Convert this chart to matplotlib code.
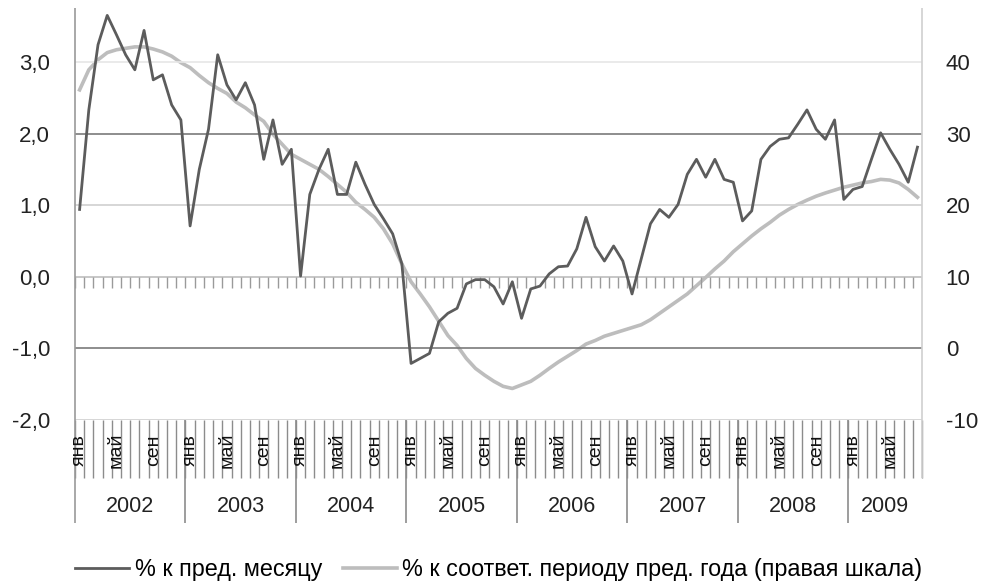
import matplotlib.pyplot as plt
import numpy as np

plt.rcParams['font.family'] = ['Liberation Sans', 'DejaVu Sans']
plt.rcParams['axes.unicode_minus'] = False

years = ['2002', '2003', '2004', '2005', '2006', '2007', '2008', '2009']
month_labels = ['янв', 'май', 'сен']

# % к пред. месяцу (левая шкала), янв 2002 - авг 2009
mom = [0.94, 2.33, 3.24, 3.65, 3.38, 3.10, 2.89, 3.44, 2.75, 2.82, 2.40, 2.19,
       0.71, 1.50, 2.06, 3.10, 2.68, 2.47, 2.71, 2.40, 1.64, 2.19, 1.57, 1.78,
       0.01, 1.15, 1.50, 1.78, 1.15, 1.15, 1.60, 1.29, 1.01, 0.81, 0.60, 0.18,
       -1.21, -1.14, -1.07, -0.63, -0.51, -0.44, -0.10, -0.04, -0.04, -0.14, -0.38, -0.07,
       -0.58, -0.17, -0.13, 0.04, 0.14, 0.15, 0.39, 0.83, 0.42, 0.22, 0.43, 0.22,
       -0.24, 0.25, 0.74, 0.94, 0.83, 1.01, 1.43, 1.64, 1.39, 1.64, 1.36, 1.32,
       0.78, 0.92, 1.64, 1.82, 1.92, 1.94, 2.13, 2.33, 2.06, 1.92, 2.19, 1.08,
       1.22, 1.26, 1.64, 2.01, 1.78, 1.57, 1.32, 1.81]

# % к соответ. периоду пред. года (правая шкала)
yoy = [36.1, 38.9, 40.3, 41.3, 41.7, 41.9, 42.1, 42.1, 41.8, 41.4, 40.8, 39.9,
       39.2, 38.1, 37.1, 36.3, 35.6, 34.4, 33.6, 32.6, 31.7, 29.9, 28.5, 27.1,
       26.4, 25.7, 25.0, 24.0, 22.9, 21.8, 20.4, 19.4, 18.3, 16.7, 14.6, 11.8,
       9.3, 7.6, 5.8, 3.8, 1.8, 0.4, -1.4, -2.8, -3.75, -4.6, -5.3, -5.6,
       -5.1, -4.6, -3.75, -2.8, -1.9, -1.1, -0.3, 0.6, 1.1, 1.7, 2.1, 2.5,
       2.9, 3.3, 4.0, 4.9, 5.8, 6.7, 7.6, 8.75, 9.9, 11.1, 12.2, 13.5,
       14.6, 15.7, 16.7, 17.6, 18.6, 19.4, 20.1, 20.7, 21.25, 21.7, 22.1, 22.5,
       22.8, 23.1, 23.3, 23.6, 23.5, 23.1, 22.2, 21.1]

left_ticks = [-2, -1, 0, 1, 2, 3]
right_ticks = [-10, 0, 10, 20, 30, 40]
grid_colors = ['#cfcfcf', '#7a7a7a', '#bdbdbd', '#cfcfcf', '#7a7a7a', '#e6e6e6']

n = len(mom)
x = np.arange(n)

fig = plt.figure(figsize=(9.83, 5.87), dpi=100)
ax = fig.add_axes([0.0763, 0.2845, 0.8617, 0.7015])
ax2 = ax.twinx()
ax.set_zorder(ax2.get_zorder() + 1)
ax.patch.set_visible(False)

for t, c in zip(left_ticks, grid_colors):
    ax.axhline(t, color=c, lw=1.2, zorder=0)

bounds = np.arange(n + 1) - 0.5
ax.vlines(bounds, -0.16, 0, color='#9a9a9a', lw=1, zorder=0)

l2, = ax2.plot(x, yoy, color='#bdbdbd', lw=2.6, solid_joinstyle='round')
l1, = ax.plot(x, mom, color='#5c5c5c', lw=2.0, solid_joinstyle='round')

ax.set_xlim(-0.5, n - 0.5)
ax.set_ylim(-2, 3.75)
ax2.set_ylim(-10, 47.5)
ax.set_xticks([])
ax.set_yticks(left_ticks)
ax.set_yticklabels([('%.1f' % t).replace('.', ',') for t in left_ticks])
ax2.set_yticks(right_ticks)
ax.tick_params(axis='y', length=0, pad=18, labelsize=16, labelcolor='#222222')
ax2.tick_params(axis='y', length=0, pad=17, labelsize=16, labelcolor='#222222')
for a in (ax, ax2):
    for s in a.spines.values():
        s.set_visible(False)

# category axis with months and years
tr = ax.get_xaxis_transform()
ax.vlines(bounds, -0.141, 0, color='#8c8c8c', lw=1, transform=tr, clip_on=False)
ax.vlines(-0.5, -0.25, 1, color='#9a9a9a', lw=1.2, transform=tr, clip_on=False)
ax.vlines(n - 0.5, -0.141, 1, color='#d0d0d0', lw=1.2, transform=tr, clip_on=False)
for k, yr in enumerate(years):
    start = 12 * k
    end = min(12 * (k + 1), n)
    if k > 0:
        ax.vlines(start - 0.5, -0.25, 0, color='#8c8c8c', lw=1.2, transform=tr, clip_on=False)
    ax.text((start + end - 1) / 2, -0.211, yr, transform=tr, ha='center', va='center',
            fontsize=15.5, color='#222222')
    for j, m in enumerate(month_labels):
        i = start + 4 * j
        if i < n:
            ax.text(i, -0.073, m, transform=tr, ha='center', va='center', rotation=90,
                    fontsize=14, color='#111111')

fig.legend([l1, l2], ['% к пред. месяцу', '% к соответ. периоду пред. года (правая шкала)'],
           loc='center left', bbox_to_anchor=(0.0763, 0.029), ncol=2, frameon=False,
           fontsize=16.8, handlelength=2.3, handletextpad=0.25, columnspacing=0.9,
           borderpad=0, borderaxespad=0)

plt.savefig('out.png', dpi=100)
